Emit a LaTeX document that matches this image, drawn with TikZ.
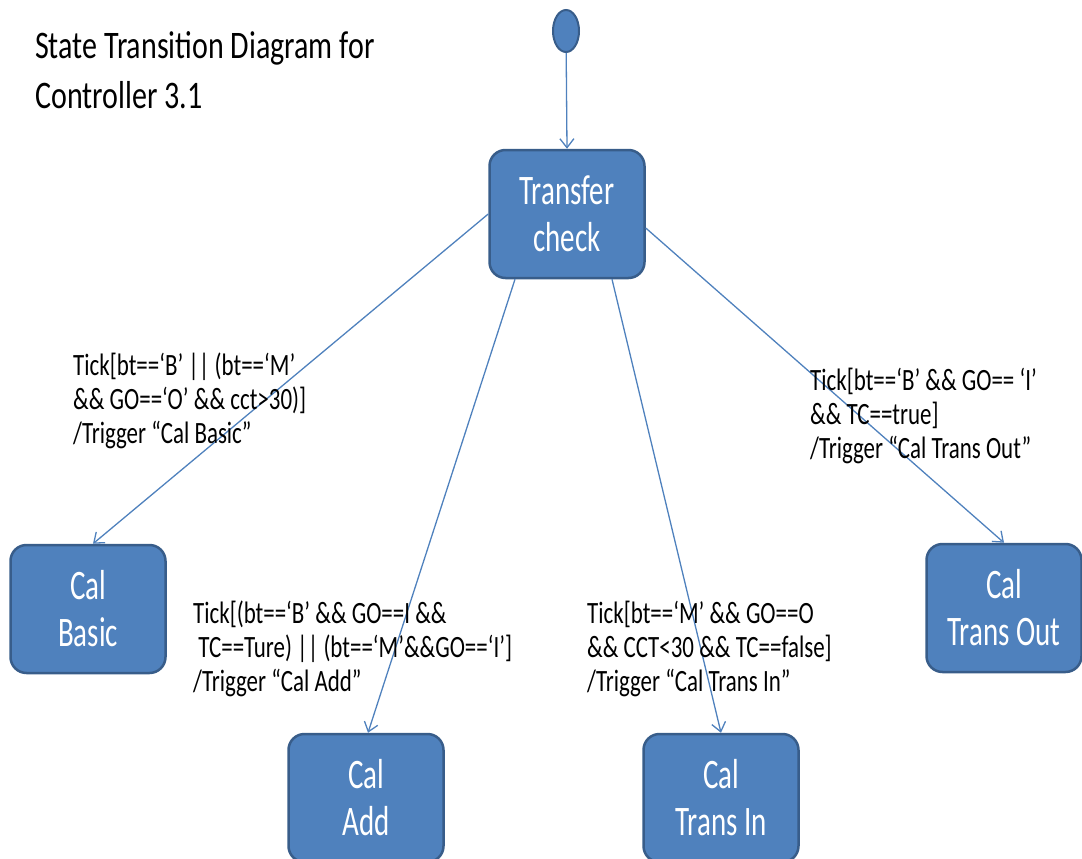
\documentclass[tikz,border=0pt]{standalone}
\usepackage{fontspec}
\setmainfont[FakeStretch=0.8]{Carlito}
\newfontfamily\guardfont[FakeStretch=0.74]{Carlito}
\newfontfamily\titlefont[FakeStretch=0.77]{Carlito}
\newfontfamily\boxfont[FakeStretch=0.69]{Carlito}
\usetikzlibrary{arrows.meta,shapes.geometric}
\definecolor{stateblue}{RGB}{79,129,189}
\definecolor{stateborder}{RGB}{56,93,138}
\definecolor{linkblue}{RGB}{79,129,189}
\tikzset{
  statebox/.style={draw=stateborder, fill=stateblue, line width=2.5pt, rounded corners=16pt,
    minimum width=155pt, minimum height=128pt, text=white, align=center,
    font=\boxfont\fontsize{42}{47}\selectfont, inner sep=0pt},
  startdot/.style={ellipse, draw=stateborder, fill=stateblue, line width=2pt,
    minimum width=26pt, minimum height=42pt, inner sep=0pt},
  arr/.style={draw=linkblue, line width=1.3pt, -{Straight Barb[length=9pt,width=14pt,line width=1.3pt]}},
  guard/.style={anchor=west, align=left, inner sep=0pt, font=\guardfont\fontsize{31}{34}\selectfont},
  titletext/.style={anchor=west, align=left, inner sep=0pt, font=\titlefont\fontsize{39}{50}\selectfont}
}
\begin{document}
\begin{tikzpicture}[x=1pt,y=-1pt]
\useasboundingbox (0,0) rectangle (1082,859);
\node[titletext] (title) at (35,70) {State Transition Diagram for\\Controller 3.1};
\node[startdot] (init) at (566,31) {};
\node[statebox] (tc) at (567,214) {Transfer\\check};
\node[statebox] (basic) at (88,609) {Cal\\Basic};
\node[statebox] (out) at (1004,608) {Cal\\Trans Out};
\node[statebox] (add) at (366,798) {Cal\\Add};
\node[statebox] (in) at (721,798) {Cal\\Trans In};

\draw[arr] (init) -- (tc.north);
\draw[arr] (tc.west) -- ([xshift=5pt]basic.north);
\draw[arr] ([xshift=-52pt]tc.south) -- ([xshift=2pt]add.north);
\draw[arr] ([xshift=45pt]tc.south) -- (in.north);
\draw[arr] ([yshift=-14pt]tc.east) -- (out.north);

\node[guard] (g1) at (73,401) {Tick[bt==‘B’ || (bt==‘M’\\\&\& GO==‘O’ \&\& cct>30)]\\/Trigger “Cal Basic”};
\node[guard] (g2) at (810,416) {Tick[bt==‘B’ \&\& GO== ‘I’\\\&\& TC==true]\\/Trigger “Cal Trans Out”};
\node[guard] (g3) at (193,649) {Tick[(bt==‘B’ \&\& GO==I \&\&\\ \ TC==Ture) || (bt==‘M’\&\&GO==‘I’]\\/Trigger “Cal Add”};
\node[guard] (g4) at (587,649) {Tick[bt==‘M’ \&\& GO==O\\\&\& CCT<30 \&\& TC==false]\\/Trigger “Cal Trans In”};
\end{tikzpicture}
\end{document}
